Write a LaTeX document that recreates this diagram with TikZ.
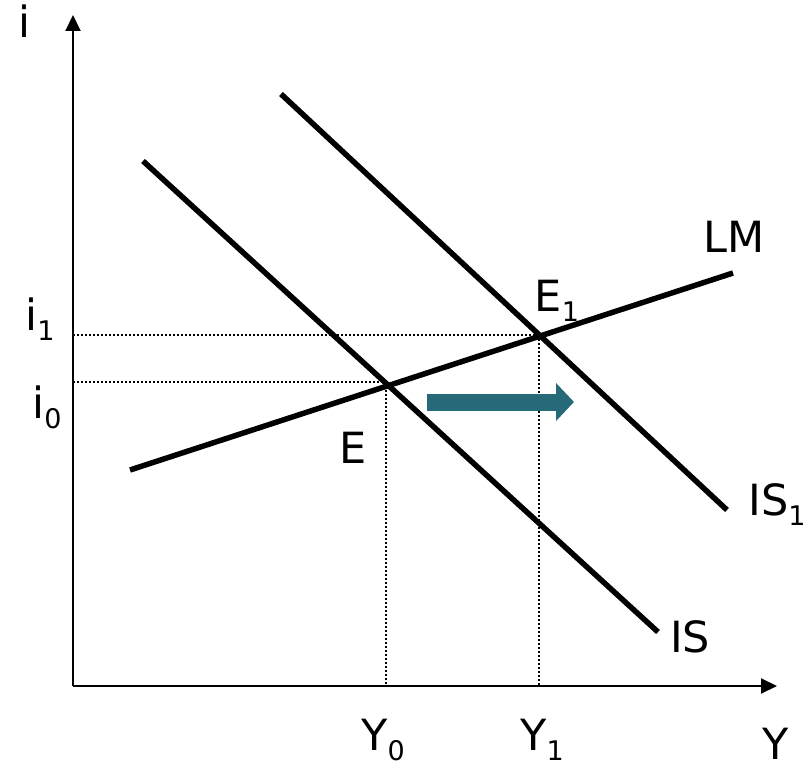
\documentclass[tikz,border=0pt]{standalone}
\usepackage{fontspec}
\setmainfont{DejaVu Sans}
\usetikzlibrary{arrows.meta}
\definecolor{ShiftTeal}{HTML}{266A7A}
\newcommand{\lowidx}[1]{\raisebox{-.24em}{\fontsize{27}{30}\selectfont #1}}

\begin{document}
\begin{tikzpicture}[x=1pt,y=-1pt,
  curve/.style={line width=5.5pt},
  axis/.style={line width=2pt,-{Triangle[length=16pt,width=15pt]}},
  guide/.style={dash pattern=on 1.8pt off 2.2pt,line width=1.8pt},
  lbl/.style={anchor=base,inner sep=0pt,font=\fontsize{43}{48}\selectfont}]
  \useasboundingbox (0,0) rectangle (812,768);

  % axes
  \coordinate (O) at (73,686);
  \coordinate (itip) at (73,15);
  \coordinate (Ytip) at (777,686);
  \draw[axis] (O) -- (itip);
  \draw[axis] (O) -- (Ytip);

  % LM and the two IS curves
  \coordinate (lmA) at (130,470);  \coordinate (lmB) at (733,273);
  \coordinate (isA) at (143,161);  \coordinate (isB) at (658,632);
  \coordinate (isoneA) at (281,94); \coordinate (isoneB) at (727,510);
  \draw[curve] (lmA) -- (lmB);
  \draw[curve] (isA) -- (isB);
  \draw[curve] (isoneA) -- (isoneB);

  % equilibria and guides
  \coordinate (E) at (386,382);
  \coordinate (Eone) at (539,335);
  \foreach \p in {E,Eone} {
    \draw[guide] (O |- \p) -- (\p);
    \draw[guide] (\p) -- (\p |- O);
  }

  % shift of IS
  \coordinate (shiftA) at (427,402);
  \coordinate (shiftB) at (574,402);
  \draw[ShiftTeal,line width=17pt,-{Triangle[length=18pt,width=37pt]}] (shiftA) -- (shiftB);

  \node[lbl] (ilab) at (24,38) {i};
  \node[lbl] (Ylab) at (776,759) {Y};
  \node[lbl] (Yzero) at (383,750) {Y\lowidx{0}};
  \node[lbl] (Yone) at (542,750) {Y\lowidx{1}};
  \node[lbl] (ione) at (40,330) {i\lowidx{1}};
  \node[lbl] (izero) at (47,418) {i\lowidx{0}};
  \node[lbl] (Elab) at (353,463) {E};
  \node[lbl] (Eonelab) at (557,311) {E\lowidx{1}};
  \node[lbl] (LMlab) at (734,252) {LM};
  \node[lbl] (ISlab) at (690,652) {IS};
  \node[lbl] (ISonelab) at (777,515) {IS\lowidx{1}};
\end{tikzpicture}
\end{document}
